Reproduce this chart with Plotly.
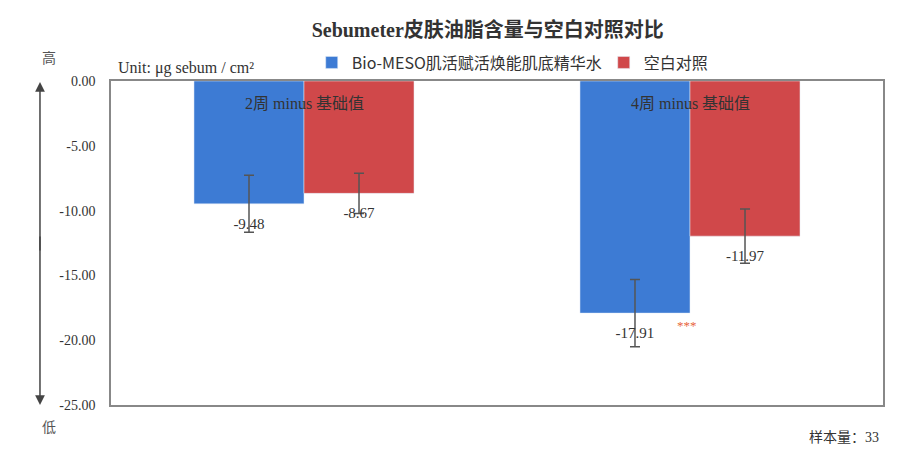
import plotly.graph_objects as go

categories = ["2周 minus 基础值", "4周 minus 基础值"]
series_names = ["Bio-MESO肌活赋活焕能肌底精华水", "空白对照"]
product_values = [-9.48, -17.91]
control_values = [-8.67, -11.97]
product_err = [2.2, 2.6]
control_err = [1.55, 2.1]
significance = ["", "***"]
y_ticks = [0, -5, -10, -15, -20, -25]

BLUE = "#3d7bd4"
RED = "#d0484a"
SERIF = "Liberation Serif, Noto Sans CJK SC, serif"
TXT = "#333333"

fig = go.Figure()
for name, vals, errs, col, grp in [
    (series_names[0], product_values, product_err, BLUE, "g1"),
    (series_names[1], control_values, control_err, RED, "g2"),
]:
    fig.add_trace(go.Bar(
        x=categories, y=vals, name=name, marker_color=col, offsetgroup=grp,
        error_y=dict(type="data", array=errs, visible=True, color="#555555",
                     thickness=1.5, width=5),
    ))
for vals, grp in [(product_values, "g1"), (control_values, "g2")]:
    fig.add_trace(go.Scatter(
        x=categories, y=vals, mode="markers+text", offsetgroup=grp,
        text=[f"{v:.2f}" for v in vals], textposition="bottom center",
        marker=dict(size=20, opacity=0), showlegend=False, hoverinfo="skip",
        textfont=dict(family=SERIF, size=15, color=TXT),
    ))

for cat in categories:
    fig.add_annotation(x=cat, y=0, yshift=-22, text=cat, showarrow=False,
                       yanchor="middle",
                       font=dict(family=SERIF, size=16, color=TXT))
for cat, sig, v in zip(categories, significance, product_values):
    if sig:
        fig.add_annotation(x=cat, y=v, yshift=-12, xshift=-3, text=sig, showarrow=False,
                           yanchor="middle",
                           font=dict(family=SERIF, size=13, color="#e8643c"))

# high/low arrows
fig.add_annotation(xref="paper", yref="paper", x=-0.092, y=0.997, ax=0, ay=170,
                   axref="pixel", ayref="pixel", showarrow=True, arrowhead=2,
                   arrowsize=1.3, arrowwidth=1.5, arrowcolor="#444444", text="")
fig.add_annotation(xref="paper", yref="paper", x=-0.092, y=0.0, ax=0, ay=-170,
                   axref="pixel", ayref="pixel", showarrow=True, arrowhead=2,
                   arrowsize=1.3, arrowwidth=1.5, arrowcolor="#444444", text="")
fig.add_annotation(xref="paper", yref="paper", x=-0.092, y=1.0, yshift=23,
                   yanchor="middle", text="高", showarrow=False,
                   font=dict(family=SERIF, size=14, color="#555555"))
fig.add_annotation(xref="paper", yref="paper", x=-0.092, y=0.0, yshift=-22,
                   yanchor="middle", text="低", showarrow=False,
                   font=dict(family=SERIF, size=14, color="#555555"))
fig.add_annotation(xref="paper", yref="paper", x=0.006, y=1.0, yshift=13,
                   xanchor="left", yanchor="middle", text="Unit: μg sebum / cm²",
                   showarrow=False, font=dict(family=SERIF, size=16, color=TXT))
fig.add_annotation(xref="paper", yref="paper", x=1.0, y=0.0, yshift=-32, xshift=-2,
                   xanchor="right", yanchor="middle", text="样本量：33", showarrow=False,
                   font=dict(family=SERIF, size=14, color=TXT))

fig.update_layout(
    width=918, height=460,
    margin=dict(l=103, r=43, t=73, b=63, autoexpand=False),
    paper_bgcolor="white", plot_bgcolor="white",
    barmode="group", bargap=0.43, bargroupgap=0, scattermode="group",
    title=dict(text="<b>Sebumeter皮肤油脂含量与空白对照对比</b>", x=0.488, xref="paper",
               xanchor="center", y=1 - 22 / 460, yref="container", yanchor="middle",
               font=dict(family=SERIF, size=20, color=TXT)),
    legend=dict(orientation="h", x=0.26, xanchor="left", y=1.057, yanchor="middle",
                font=dict(family="Noto Sans CJK SC, sans-serif", size=16, color=TXT),
                itemwidth=30, entrywidth=247, entrywidthmode="pixels",
                bgcolor="rgba(0,0,0,0)"),
    showlegend=True,
)
fig.update_xaxes(showticklabels=False, showgrid=False, showline=True, mirror=True,
                 linecolor="#888888", linewidth=1.5, ticks="")
fig.update_yaxes(range=[-25, 0], tickvals=y_ticks, ticktext=[f"{v:.2f}" for v in y_ticks],
                 showgrid=False, zeroline=False, showline=True, mirror=True,
                 linecolor="#888888", linewidth=1.5, ticks="", ticklabelstandoff=11,
                 tickfont=dict(family=SERIF, size=14, color=TXT))

fig.write_html("out.html")
